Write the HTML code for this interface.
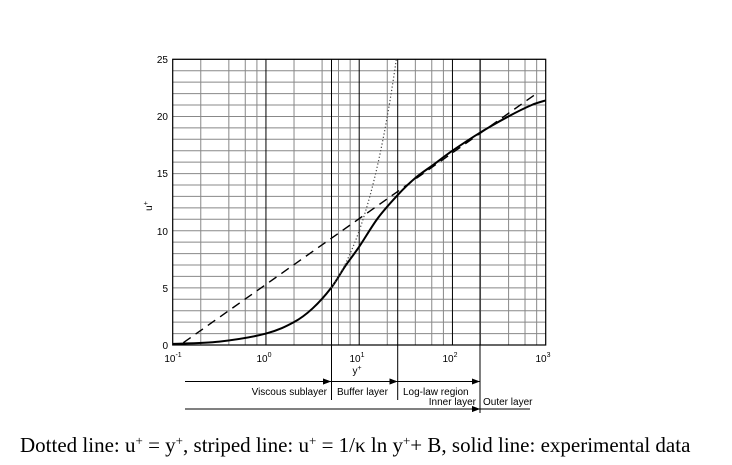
<!DOCTYPE html>
<html><head><meta charset="utf-8"><style>
html,body{margin:0;padding:0;background:#fff;width:732px;height:465px;overflow:hidden}
svg{position:absolute;left:0;top:0}
text{font-family:"Liberation Sans",sans-serif;fill:#000}
.cap{font-family:"Liberation Serif",serif}
</style></head><body>
<svg id="s" width="732" height="465" xmlns="http://www.w3.org/2000/svg">
<defs>
<marker id="ar" markerWidth="8" markerHeight="6" refX="8" refY="3" orient="auto" markerUnits="userSpaceOnUse"><path d="M0,0 L8,3 L0,6 z" fill="#000"/></marker>
</defs>
<g id="grid"></g>
<g id="curves"></g>
<g font-size="10">
<text x="168" y="63" text-anchor="end">25</text>
<text x="168" y="120" text-anchor="end">20</text>
<text x="168" y="177" text-anchor="end">15</text>
<text x="168" y="235" text-anchor="end">10</text>
<text x="168" y="292" text-anchor="end">5</text>
<text x="168" y="349" text-anchor="end">0</text>
<text x="173" y="362" text-anchor="middle">10<tspan dy="-5" font-size="7">-1</tspan></text>
<text x="264" y="362" text-anchor="middle">10<tspan dy="-5" font-size="7">0</tspan></text>
<text x="357" y="362" text-anchor="middle">10<tspan dy="-5" font-size="7">1</tspan></text>
<text x="450" y="362" text-anchor="middle">10<tspan dy="-5" font-size="7">2</tspan></text>
<text x="543" y="362" text-anchor="middle">10<tspan dy="-5" font-size="7">3</tspan></text>
<text x="357" y="374" text-anchor="middle">y<tspan dy="-4" font-size="7">+</tspan></text>
<text transform="translate(152,206) rotate(-90)" text-anchor="middle">u<tspan dy="-4" font-size="7">+</tspan></text>
<text x="327" y="395" text-anchor="end">Viscous sublayer</text>
<text x="337" y="395">Buffer layer</text>
<text x="403" y="395">Log-law region</text>
<text x="476" y="405" text-anchor="end">Inner layer</text>
<text x="483" y="405">Outer layer</text>
</g>
<g stroke="#000" stroke-width="1" fill="none">
<line x1="185" y1="381.5" x2="331" y2="381.5" marker-end="url(#ar)"/>
<line x1="331" y1="381.5" x2="397.5" y2="381.5" marker-end="url(#ar)" marker-start="url(#ar)"/>
<line x1="397.5" y1="381.5" x2="480" y2="381.5" marker-end="url(#ar)" marker-start="url(#ar)"/>
<line x1="185" y1="409" x2="480" y2="409" marker-end="url(#ar)"/>
<line x1="480" y1="409" x2="530" y2="409" marker-start="url(#ar)"/>
</g>
<text class="cap" x="20" y="452" style="font-size:21px">Dotted line: u<tspan dy="-7" font-size="13">+</tspan><tspan dy="7"> = y</tspan><tspan dy="-7" font-size="13">+</tspan><tspan dy="7">, striped line: u</tspan><tspan dy="-7" font-size="13">+</tspan><tspan dy="7"> = 1/κ ln y</tspan><tspan dy="-7" font-size="13">+</tspan><tspan dy="7">+ B, solid line: experimental data</tspan></text>
</svg>
<script>
var L=172.7,R=545.7,T=59.3,B=345,D=(R-L)/4,U=(B-T)/25;
function X(y){return L+(Math.log10(y)+1)*D}
function Y(u){return B-u*U}
var g='';
for(var k=1;k<=25;k++){g+='<line x1="'+L+'" x2="'+R+'" y1="'+Y(k)+'" y2="'+Y(k)+'" stroke="#888" stroke-width="1"/>';}
for(var e=-1;e<3;e++)[2,4,6,8].forEach(function(m){var x=X(m*Math.pow(10,e));g+='<line x1="'+x+'" x2="'+x+'" y1="'+T+'" y2="'+B+'" stroke="#888" stroke-width="1"/>';});
[1,10,100].forEach(function(v){var x=X(v);g+='<line x1="'+x+'" x2="'+x+'" y1="'+T+'" y2="'+B+'" stroke="#000" stroke-width="1"/>';});
g+='<line x1="331.5" x2="331.5" y1="'+T+'" y2="400" stroke="#000"/>';
g+='<line x1="397.7" x2="397.7" y1="'+T+'" y2="400" stroke="#000"/>';
g+='<line x1="480" x2="480" y1="'+T+'" y2="413" stroke="#000"/>';
g+='<rect x="'+L+'" y="'+T+'" width="'+(R-L)+'" height="'+(B-T)+'" fill="none" stroke="#000" stroke-width="1.2"/>';
document.getElementById('grid').innerHTML=g;
var P=[[-1,0.1],[-0.5,0.3],[0,1.0],[0.3,2.0],[0.5,3.2],[0.699,5.0],[0.85,6.9],[1,8.6],[1.2,11.1],[1.41,13.1],[1.6,14.6],[1.8,15.8],[2,17],[2.3,18.6],[2.6,20.0],[2.85,21.0],[3,21.4]];
var pts=P.map(function(p){return [L+(p[0]+1)*D,Y(p[1])]});
var d='M'+pts[0][0]+','+pts[0][1];
for(var i=0;i<pts.length-1;i++){var p0=pts[Math.max(i-1,0)],p1=pts[i],p2=pts[i+1],p3=pts[Math.min(i+2,pts.length-1)];
d+=' C'+(p1[0]+(p2[0]-p0[0])/6)+','+(p1[1]+(p2[1]-p0[1])/6)+' '+(p2[0]-(p3[0]-p1[0])/6)+','+(p2[1]-(p3[1]-p1[1])/6)+' '+p2[0]+','+p2[1];}
var c='<path d="'+d+'" fill="none" stroke="#000" stroke-width="2"/>';
c+='<line x1="'+X(0.13)+'" y1="'+Y(2.5*Math.log(0.13)+5.3)+'" x2="'+X(800)+'" y2="'+Y(2.5*Math.log(800)+5.3)+'" stroke="#000" stroke-width="1.4" stroke-dasharray="9,6"/>';
var dd='';for(var y=5;y<=25.01;y+=0.25){dd+=(dd?' L':'M')+X(y)+','+Y(y);}
c+='<path d="'+dd+'" fill="none" stroke="#444" stroke-width="1.2" stroke-dasharray="1.2,2.2"/>';
document.getElementById('curves').innerHTML=c;
</script>
</body></html>
